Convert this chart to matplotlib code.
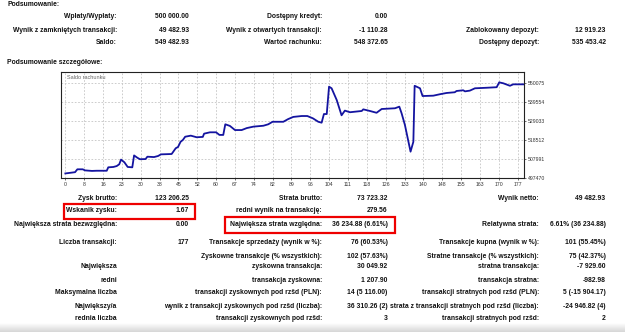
import numpy as np
from matplotlib import pyplot as plt
from matplotlib.patches import Rectangle

W_PX, H_PX = 625, 332
DPI = 100

FONT = ["Liberation Sans", "DejaVu Sans"]
FONT_SIZE = 4.9
TICK_FONT_SIZE = 3.7
TEXT_COLOR = "#111111"
LINE_COLOR = "#1414a0"

plt.rcParams["font.family"] = FONT

# balance curve (trade number, account balance)
trade_no = [0, 3.8, 4.7, 6.8, 7.7, 10.4, 12.3, 16.2, 16.8, 18.8, 20.1, 21.1,
            21.8, 23.1, 24.4, 26.2, 26.9, 28.2, 29.2, 31.4, 32.1, 34.7, 36.3,
            37.4, 41.6, 43.2, 44.1, 45.1, 46.0, 46.9, 49.1, 51.4, 53.8, 54.3,
            56.6, 59.0, 60.3, 61.8, 62.6, 64.4, 66.4, 69.0, 71.0, 73.6, 77.5,
            79.4, 81.1, 85.3, 87.2, 89.2, 92.5, 94.7, 96.9, 99.0, 100.3, 101.2,
            102.3, 103.2, 104.2, 106.2, 108.1, 109.4, 111.4, 116.0, 116.6,
            119.2, 121.8, 123.8, 129.0, 130.7, 131.6, 132.9, 135.1, 136.2,
            136.7, 138.8, 139.8, 144.0, 146.6, 149.2, 152.4, 153.1, 155.7,
            156.4, 158.3, 160.3, 164.9, 168.8, 169.8, 171.4, 174.0, 175.3, 179.3]
balance = [500000, 500700, 502300, 502300, 501700, 501400, 501500, 501500,
           503400, 503600, 504100, 505100, 507700, 506200, 503600, 503400,
           510000, 508700, 507900, 508000, 509300, 509100, 509700, 510600,
           510800, 514000, 514700, 517600, 518600, 520400, 521000, 520100,
           520300, 522100, 522850, 522850, 521400, 521400, 527300, 526400,
           524100, 524100, 525200, 526000, 526500, 527300, 528700, 528700,
           530200, 531400, 531900, 531900, 530600, 528700, 528200, 533000,
           533000, 548200, 547300, 540800, 532300, 534900, 534000, 534700,
           535600, 534700, 533700, 535800, 536200, 537100, 533400, 526900,
           512100, 517600, 548700, 547300, 543000, 543200, 544000, 544700,
           545100, 545800, 546200, 545600, 546000, 547300, 547600, 547900,
           550600, 550075, 548700, 549500, 549500]

y_ticks = [497470, 507991, 518512, 529033, 539554, 550075]
y_top = 556350
x_tick_labels = ["0", "8", "16", "23", "30", "38", "45", "52", "60", "67", "74",
                 "82", "89", "96", "104", "111", "118", "126", "133", "140",
                 "148", "155", "163", "170", "177"]
last_trade = 177

# summary block
top_rows_y = [17, 30, 43]
top_labels_1 = ["Wpłaty/Wypłaty:", "Wynik z zamkniętych transakcji:", "Saldo:"]
top_values_1 = ["500 000.00", "49 482.93", "549 482.93"]
top_labels_2 = ["Dostępny kredyt:", "Wynik z otwartych transakcji:", "Wartoć rachunku:"]
top_values_2 = ["0.00", "-1 110.28", "548 372.65"]
top_labels_3 = ["", "Zablokowany depozyt:", "Dostępny depozyt:"]
top_values_3 = ["", "12 919.23", "535 453.42"]

# detailed block
det_rows_y = [199, 211, 224, 242, 256, 266, 280, 293, 306, 318]
det_labels_1 = ["Zysk brutto:", "Wskanik zysku:", "Największa strata bezwzględna:",
                "Liczba transakcji:", "", "Największa", "redni",
                "Maksymalna liczba", "Największy/a", "rednia liczba"]
det_values_1 = ["123 206.25", "1.67", "0.00", "177", "", "", "", "", "", ""]
det_labels_2 = ["Strata brutto:", "redni wynik na transakcję:",
                "Największa strata względna:", "Transakcje sprzedaży (wynik w %):",
                "Zyskowne transakcje (% wszystkich):", "zyskowna transakcja:",
                "transakcja zyskowna:", "transakcji zyskownych pod rzšd (PLN):",
                "wynik z transakcji zyskownych pod rzšd (liczba):",
                "transakcji zyskownych pod rzšd:"]
det_values_2 = ["73 723.32", "279.56", "36 234.88 (6.61%)", "76 (60.53%)",
                "102 (57.63%)", "30 049.92", "1 207.90", "14 (5 116.00)",
                "36 310.26 (2)", "3"]
det_labels_3 = ["Wynik netto:", "", "Relatywna strata:",
                "Transakcje kupna (wynik w %):", "Stratne transakcje (% wszystkich):",
                "stratna transakcja:", "transakcja stratna:",
                "transakcji stratnych pod rzšd (PLN):",
                "strata z transakcji stratnych pod rzšd (liczba):",
                "transakcji stratnych pod rzšd:"]
det_values_3 = ["49 482.93", "", "6.61% (36 234.88)", "101 (55.45%)", "75 (42.37%)",
                "-7 929.60", "-982.98", "5 (-15 904.17)", "-24 946.82 (4)", "2"]

# right edges of the label/value columns, in pixels
COL_X = [117, 189, 322, 387.5, 539, 605.5]

fig = plt.figure(figsize=(W_PX / DPI, H_PX / DPI), dpi=DPI)

# full-page overlay in pixel coordinates
page = fig.add_axes([0, 0, 1, 1])
page.axis("off")

# soft grey fade at the bottom edge of the screenshot
shade = np.linspace(1.0, 0.84, 40)
grad = np.repeat(shade[:, None, None], 3, axis=2)
page.imshow(grad, extent=(0, W_PX, H_PX, 323), aspect="auto", zorder=0)
page.set_xlim(0, W_PX)
page.set_ylim(H_PX, 0)


def put(x, y, s, ha="right"):
    if s:
        page.text(x, y, s, ha=ha, va="center", fontsize=FONT_SIZE,
                  fontweight="bold", color=TEXT_COLOR)


put(7, 5, "Podsumowanie:", ha="left")
for i, y in enumerate(top_rows_y):
    put(COL_X[0], y, top_labels_1[i])
    put(COL_X[1], y, top_values_1[i])
    put(COL_X[2], y, top_labels_2[i])
    put(COL_X[3], y, top_values_2[i])
    put(COL_X[4], y, top_labels_3[i])
    put(COL_X[5], y, top_values_3[i])

put(7, 62, "Podsumowanie szczegółowe:", ha="left")
for i, y in enumerate(det_rows_y):
    put(COL_X[0], y, det_labels_1[i])
    put(COL_X[1], y, det_values_1[i])
    put(COL_X[2], y, det_labels_2[i])
    put(COL_X[3], y, det_values_2[i])
    put(COL_X[4], y, det_labels_3[i])
    put(COL_X[5], y, det_values_3[i])

# red highlight boxes
page.add_patch(Rectangle((63.5, 204), 131, 14.5, fill=False, ec="#ee0000", lw=1.6))
page.add_patch(Rectangle((224.5, 216.5), 170.5, 16, fill=False, ec="#ee0000", lw=1.6))

# balance chart
left, right, top, bottom = 61, 524, 72, 178
ax = fig.add_axes([left / W_PX, 1 - bottom / H_PX,
                   (right - left) / W_PX, (bottom - top) / H_PX])
ax.plot(trade_no, balance, color=LINE_COLOR, lw=1.3, solid_joinstyle="round")
x_ticks = np.arange(len(x_tick_labels)) * last_trade / (len(x_tick_labels) - 1)
ax.set_xticks(x_ticks, labels=x_tick_labels)
ax.set_yticks(y_ticks, labels=[str(v) for v in y_ticks])
ax.set_xlim(-1.7, 179.5)
ax.set_ylim(y_ticks[0], y_top)
ax.yaxis.tick_right()
ax.tick_params(labelsize=TICK_FONT_SIZE, length=1.5, width=0.5, pad=1.2,
               colors="#333333")
ax.grid(True, color="#c4c4c4", linestyle=(0, (2, 2)), lw=0.6)
for sp in ax.spines.values():
    sp.set_color("#222222")
    sp.set_linewidth(0.8)
ax.text(0.012, 0.95, "Saldo rachunku", transform=ax.transAxes, ha="left",
        va="center", fontsize=TICK_FONT_SIZE + 0.3, color="#666666")

fig.savefig("out.png", dpi=DPI)
